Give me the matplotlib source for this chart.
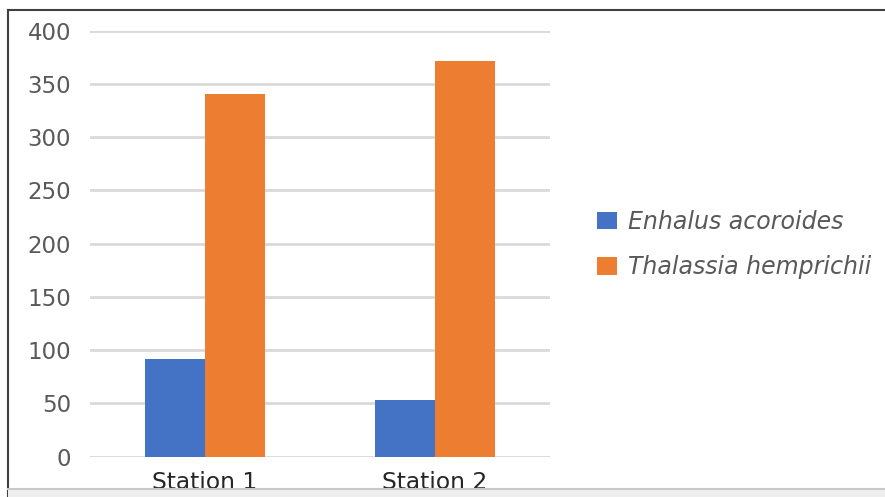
import numpy as np
import matplotlib
matplotlib.use('Agg')
import matplotlib.pyplot as plt
from matplotlib.patches import Patch, Rectangle
from matplotlib.lines import Line2D

# data
stations = ['Station 1', 'Station 2']
enhalus = [92, 53]
thalassia = [341, 372]
yticks = [0, 50, 100, 150, 200, 250, 300, 350, 400]

plt.rcParams['font.family'] = ['DejaVu Sans']

fig = plt.figure(figsize=(8.85, 4.97), dpi=100)
ax = fig.add_axes([90/885., 40.3/497., 460/885., 426/497.])

x = np.arange(len(stations))
w = 0.26
ax.bar(x - w/2, enhalus, w, color='#4472C4', zorder=3)
ax.bar(x + w/2, thalassia, w, color='#ED7D31', zorder=3)

ax.set_xlim(-0.5, 1.5)
ax.set_ylim(0, 400)
ax.set_yticks(yticks)
ax.set_yticklabels([str(v) for v in yticks])
ax.set_xticks(x)
ax.set_xticklabels(stations)
ax.grid(axis='y', color='#d9d9d9', linewidth=2, zorder=0)
ax.set_axisbelow(True)
for s in ax.spines.values():
    s.set_visible(False)
ax.tick_params(axis='y', length=0, pad=13.5, labelsize=16.5, labelcolor='#595959')
ax.tick_params(axis='x', length=0, pad=10.5, labelsize=16.8, labelcolor='#262626')
for lab in ax.get_yticklabels():
    lab.set_clip_on(False)

handles = [Patch(facecolor='#4472C4'), Patch(facecolor='#ED7D31')]
fig.legend(handles, ['Enhalus acoroides', 'Thalassia hemprichii'],
           loc='center left', bbox_to_anchor=(597/885., 252.5/497.),
           frameon=False, borderpad=0, borderaxespad=0,
           handlelength=0.83, handleheight=0.78, handletextpad=0.48,
           labelspacing=0.92, prop={'style': 'oblique', 'size': 17},
           labelcolor='#595959')

# outer frame as in the screenshot
fig.add_artist(Line2D([8/885., 8/885.], [0, 1 - 10/497.], color='#404040',
                      linewidth=1.5, transform=fig.transFigure))
fig.add_artist(Line2D([8/885., 1], [1 - 10/497., 1 - 10/497.], color='#404040',
                      linewidth=1.5, transform=fig.transFigure))
fig.add_artist(Rectangle((8/885., 0), 1, 8/497., facecolor='#eeeeee',
                         edgecolor='none', transform=fig.transFigure, zorder=5))
fig.add_artist(Line2D([8/885., 1], [8/497., 8/497.], color='#c8c8c8',
                      linewidth=1.5, transform=fig.transFigure, zorder=6))

plt.savefig('out.png', dpi=100)
plt.close('all')
